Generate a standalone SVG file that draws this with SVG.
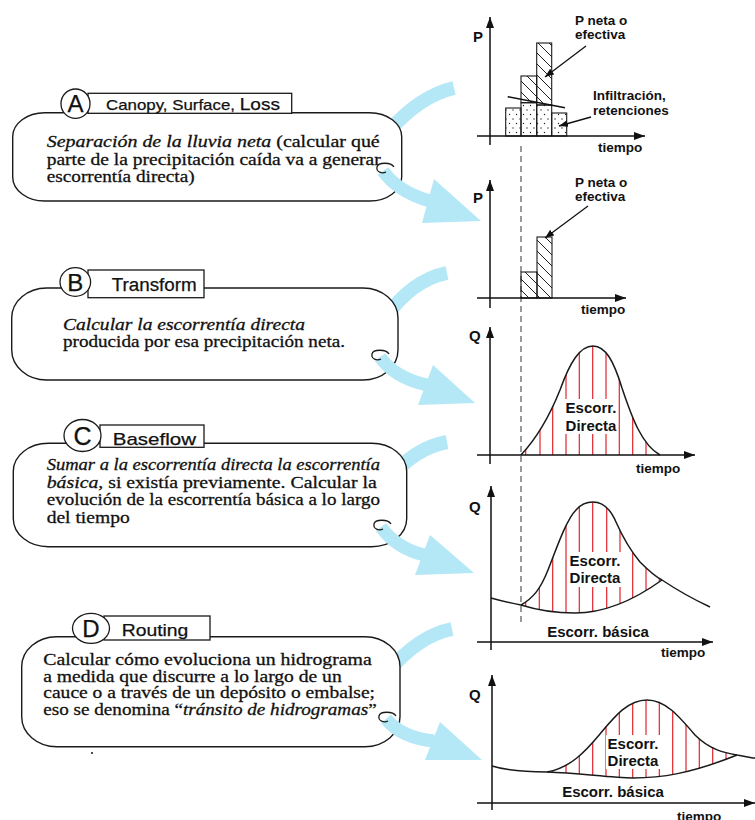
<svg xmlns="http://www.w3.org/2000/svg" width="755" height="820" viewBox="0 0 755 820">
<style>
.box{fill:#fff;stroke:#1a1a1a;stroke-width:1.4}
.lab{fill:#fff;stroke:#1a1a1a;stroke-width:1.3}
.sans{font-family:"Liberation Sans",Arial,sans-serif;fill:#111;stroke:#111;stroke-width:0.25}
.serif{font-family:"Liberation Serif","Times New Roman",serif;font-size:17.5px;fill:#111;stroke:#111;stroke-width:0.3}
.ch{font-family:"Liberation Sans",Arial,sans-serif;font-weight:bold;font-size:13.5px;fill:#111}
.big{font-family:"Liberation Sans",Arial,sans-serif;font-weight:bold;font-size:15px;fill:#111}
.axis{stroke:#111;stroke-width:1.5;fill:none;marker-end:url(#ah)}
.ptr{stroke:#111;stroke-width:1.3;fill:none;marker-end:url(#sa)}
.curve{stroke:#1a1a1a;stroke-width:1.5;fill:none}
.red{stroke:#e3232b;stroke-width:1.2}
.band{fill:none;stroke:#b5e8f6;stroke-width:14}
.shaft{fill:none;stroke:#b5e8f6;stroke-width:13}
.head{fill:#b5e8f6}
.hook{fill:none;stroke:#1a1a1a;stroke-width:1.3}
.bar{stroke:#1a1a1a;stroke-width:1.1}
</style>
<defs>
<marker id="ah" markerUnits="userSpaceOnUse" markerWidth="11" markerHeight="8" refX="11" refY="4" orient="auto"><path d="M0,0 L11,4 L0,8 z" fill="#111"/></marker>
<marker id="sa" markerUnits="userSpaceOnUse" markerWidth="9" markerHeight="7" refX="9" refY="3.5" orient="auto"><path d="M0,0 L9,3.5 L0,7 z" fill="#111"/></marker>
<pattern id="hatch" patternUnits="userSpaceOnUse" width="11" height="11"><path d="M-1,-1 L12,12 M-4,7 L4,15 M7,-4 L15,4" stroke="#222" stroke-width="1"/></pattern>
<pattern id="dots" patternUnits="userSpaceOnUse" width="7" height="9"><circle cx="2" cy="2" r="0.7" fill="#222"/><circle cx="5.5" cy="6.5" r="0.7" fill="#222"/></pattern>
<clipPath id="r3"><path d="M521,455 C535,440 548,420 560,390 C570,362 580,346 593,346 C606,346 614,362 622,388 C632,418 642,445 660,455 Z"/></clipPath>
<clipPath id="r4"><path d="M521,605 C533,598 540,590 548,570 C556,550 566,520 576,510 C582,503 588,502 593,502 C602,502 610,508 616,522 C624,540 630,550 640,562 C650,572 656,577 662,580 C630,603 600,613 575,613 C555,613 540,611 521,605 Z"/></clipPath>
<clipPath id="r5"><path d="M547,772 C570,768 585,752 600,734 C615,716 628,700 647,700 C665,700 678,715 695,735 C710,750 725,753 737,755 C690,774 660,778 633,778 C610,778 580,773 547,772 Z"/></clipPath>
</defs>
<rect width="755" height="820" fill="#fff"/>

<g id="connectors-back">
<path class="band" d="M454,88 Q420,96 390,130"/>
<path class="band" d="M447,273 Q412,280 385,318"/>
<path class="band" d="M447,442 Q415,448 390,478"/>
<path class="band" d="M452,629 Q418,636 388,672"/>
</g>

<g id="nodeA">
<rect class="box" x="12.7" y="112.7" width="389" height="88.3" rx="32" ry="24"/>
<rect class="lab" x="88" y="93.3" width="203.7" height="20"/>
<ellipse class="lab" cx="75.5" cy="103.7" rx="14.5" ry="14.7"/>
<text class="sans" x="75.5" y="112" font-size="24" text-anchor="middle">A</text>
<text class="sans" x="106" y="110" font-size="15" textLength="174" lengthAdjust="spacingAndGlyphs">Canopy, Surface, <tspan font-size="17">Loss</tspan></text>
<text class="serif" x="46.7" y="147.3" textLength="333" lengthAdjust="spacingAndGlyphs"><tspan font-style="italic">Separación de la lluvia neta</tspan> (calcular qué</text>
<text class="serif" x="46.7" y="165" textLength="334" lengthAdjust="spacingAndGlyphs">parte de la precipitación caída va a generar</text>
<text class="serif" x="46.7" y="181.7" textLength="148" lengthAdjust="spacingAndGlyphs">escorrentía directa)</text>
</g>

<g id="nodeB">
<rect class="box" x="11.7" y="288" width="386.3" height="92" rx="35" ry="30"/>
<rect class="lab" x="88" y="270" width="116" height="27.7"/>
<ellipse class="lab" cx="75.3" cy="282" rx="15.3" ry="14.3"/>
<text class="sans" x="75.3" y="290.5" font-size="24" text-anchor="middle">B</text>
<text class="sans" x="111.7" y="290.5" font-size="18" textLength="85" lengthAdjust="spacingAndGlyphs">Transform</text>
<text class="serif" x="63" y="330" textLength="242" lengthAdjust="spacingAndGlyphs" font-style="italic">Calcular la escorrentía directa</text>
<text class="serif" x="63" y="346.7" textLength="282" lengthAdjust="spacingAndGlyphs">producida por esa precipitación neta.</text>
</g>

<g id="nodeC">
<rect class="box" x="13.3" y="443.3" width="393.4" height="103.4" rx="35" ry="28"/>
<rect class="lab" x="100" y="425" width="104" height="22.3"/>
<ellipse class="lab" cx="82.5" cy="435.5" rx="18.5" ry="16"/>
<text class="sans" x="82.5" y="444.5" font-size="25" text-anchor="middle">C</text>
<text class="sans" x="112.7" y="445" font-size="17" textLength="83.3" lengthAdjust="spacingAndGlyphs">Baseflow</text>
<text class="serif" x="46.7" y="470" textLength="333.3" lengthAdjust="spacingAndGlyphs" font-style="italic">Sumar a la escorrentía directa la escorrentía</text>
<text class="serif" x="46.7" y="487.7" textLength="330" lengthAdjust="spacingAndGlyphs"><tspan font-style="italic">básica,</tspan> si existía previamente. Calcular la</text>
<text class="serif" x="46.7" y="505.3" textLength="333.3" lengthAdjust="spacingAndGlyphs">evolución de la escorrentía básica a lo largo</text>
<text class="serif" x="46.7" y="523" textLength="83" lengthAdjust="spacingAndGlyphs">del tiempo</text>
</g>

<g id="nodeD">
<rect class="box" x="21.7" y="636.7" width="378.3" height="110" rx="35" ry="30"/>
<rect class="lab" x="104" y="616" width="106" height="24"/>
<ellipse class="lab" cx="91" cy="628.3" rx="18.5" ry="15"/>
<text class="sans" x="91" y="637" font-size="24" text-anchor="middle">D</text>
<text class="sans" x="121.7" y="636" font-size="17" textLength="66.7" lengthAdjust="spacingAndGlyphs">Routing</text>
<text class="serif" x="43.3" y="665" textLength="328.4" lengthAdjust="spacingAndGlyphs">Calcular cómo evoluciona un hidrograma</text>
<text class="serif" x="43.3" y="681.7" textLength="298.4" lengthAdjust="spacingAndGlyphs">a medida que discurre a lo largo de un</text>
<text class="serif" x="43.3" y="698.3" textLength="331.7" lengthAdjust="spacingAndGlyphs">cauce o a través de un depósito o embalse;</text>
<text class="serif" x="43.3" y="715" textLength="333.4" lengthAdjust="spacingAndGlyphs">eso se denomina “<tspan font-style="italic">tránsito de hidrogramas</tspan>”</text>
<circle cx="92" cy="753" r="1" fill="#111"/>
</g>

<g id="connectors">
<path class="shaft" d="M383,171 Q398,192 430,201"/>
<polygon class="head" points="434,179 422,223 481,221"/>
<path class="hook" d="M394,167 C391,162 378,162 377,167 C376,172 382,174 386,172"/>
<path class="shaft" d="M380,357 Q395,378 427,385"/>
<polygon class="head" points="433,365 418,405 475,403"/>
<path class="hook" d="M389,354 C386,349 373,349 372,354 C371,359 377,361 381,359"/>
<path class="shaft" d="M381,527 Q396,548 424,555"/>
<polygon class="head" points="430,535 415,575 474,573"/>
<path class="hook" d="M391,524 C388,519 375,519 374,524 C373,529 379,531 383,529"/>
<path class="shaft" d="M386,719 Q402,738 434,741"/>
<polygon class="head" points="440,722 425,760 482,760"/>
<path class="hook" d="M396,716 C393,711 380,711 379,716 C378,721 384,723 388,721"/>
</g>

<g id="guide">
<line x1="521" y1="146" x2="521" y2="622" stroke="#666" stroke-width="1.3" stroke-dasharray="6,4"/>
</g>

<g id="chart1">
<rect x="505.7" y="108" width="15.3" height="28" fill="url(#dots)" class="bar"/>
<rect x="521" y="102.7" width="15.7" height="33.3" fill="url(#dots)" class="bar"/>
<rect x="521" y="76" width="15.7" height="26.7" fill="url(#hatch)" class="bar"/>
<rect x="536.7" y="105" width="15" height="31" fill="url(#dots)" class="bar"/>
<rect x="536.7" y="43" width="15" height="62" fill="url(#hatch)" class="bar"/>
<rect x="551.7" y="113" width="15" height="23" fill="url(#dots)" class="bar"/>
<line x1="507.7" y1="96.7" x2="565" y2="107.7" stroke="#111" stroke-width="1.6"/>
<path class="axis" d="M490,145 V17"/>
<path class="axis" d="M477,136 H645"/>
<path class="ptr" d="M586,46 L545,77"/>
<path class="ptr" d="M591,117 L559,126"/>
<text class="big" x="473" y="42">P</text>
<text class="ch" x="575" y="25">P neta o</text>
<text class="ch" x="575" y="39">efectiva</text>
<text class="ch" x="593" y="100">Infiltración,</text>
<text class="ch" x="593" y="115">retenciones</text>
<text class="ch" x="598" y="152">tiempo</text>
</g>

<g id="chart2">
<rect x="521" y="272" width="16" height="26" fill="url(#hatch)" class="bar"/>
<rect x="537" y="237" width="15" height="61" fill="url(#hatch)" class="bar"/>
<path class="axis" d="M490,308 V180"/>
<path class="axis" d="M477,298 H626"/>
<path class="ptr" d="M588,206 L545,238"/>
<text class="big" x="473" y="203">P</text>
<text class="ch" x="575" y="187">P neta o</text>
<text class="ch" x="575" y="201">efectiva</text>
<text class="ch" x="581" y="314">tiempo</text>
</g>

<g id="chart3">
<g clip-path="url(#r3)" class="red">
<path d="M525.7,330V460M540,330V460M552.7,330V460M566,330V460M579.3,330V460M592.7,330V460M606,330V460M619.3,330V460M632.7,330V460M646,330V460"/>
</g>
<rect x="565" y="399" width="53" height="35" fill="#fff"/>
<text class="big" x="591" y="413" text-anchor="middle">Escorr.</text>
<text class="big" x="591" y="431" text-anchor="middle">Directa</text>
<path class="curve" d="M521,455 C535,440 548,420 560,390 C570,362 580,346 593,346 C606,346 614,362 622,388 C632,418 642,445 660,455"/>
<path class="axis" d="M490,464 V327"/>
<path class="axis" d="M477,455 H695"/>
<text class="big" x="469" y="341">Q</text>
<text class="ch" x="636" y="473">tiempo</text>
</g>

<g id="chart4">
<g clip-path="url(#r4)" class="red">
<path d="M525.7,495V620M539.3,495V620M552.7,495V620M566,495V620M579.3,495V620M592.7,495V620M606.7,495V620M620,495V620M632.7,495V620M646,495V620M659.3,495V620"/>
</g>
<rect x="569" y="552" width="53" height="35" fill="#fff"/>
<text class="big" x="595" y="566" text-anchor="middle">Escorr.</text>
<text class="big" x="595" y="583" text-anchor="middle">Directa</text>
<path class="curve" d="M491,598 Q505,602 521,605 C540,611 555,613 575,613 C600,613 630,603 662,580"/>
<path class="curve" d="M521,605 C533,598 540,590 548,570 C556,550 566,520 576,510 C582,503 588,502 593,502 C602,502 610,508 616,522 C624,540 630,550 640,562 C650,572 656,577 662,580 C680,592 695,600 710,607"/>
<path class="axis" d="M491,650 V486"/>
<path class="axis" d="M477,642 H713"/>
<text class="big" x="469" y="512">Q</text>
<text class="big" x="598" y="637" text-anchor="middle">Escorr. básica</text>
<text class="ch" x="661" y="657">tiempo</text>
</g>

<g id="chart5">
<g clip-path="url(#r5)" class="red">
<path d="M552.7,690V785M566,690V785M579.3,690V785M592.7,690V785M606,690V785M619.3,690V785M632.7,690V785M646,690V785M659.3,690V785M672.7,690V785M686,690V785M699.3,690V785M712.7,690V785M726,690V785"/>
</g>
<rect x="606" y="735" width="54" height="34" fill="#fff"/>
<text class="big" x="633" y="749" text-anchor="middle">Escorr.</text>
<text class="big" x="633" y="766" text-anchor="middle">Directa</text>
<path class="curve" d="M492,766 C505,770 520,772 547,772 C580,773 610,778 633,778 C660,778 690,774 737,755"/>
<path class="curve" d="M547,772 C570,768 585,752 600,734 C615,716 628,700 647,700 C665,700 678,715 695,735 C710,750 725,753 737,755 C745,756 750,758 755,758"/>
<path class="axis" d="M492,810 V675"/>
<path class="axis" d="M477,803 H755"/>
<text class="big" x="469" y="700">Q</text>
<text class="big" x="613" y="797" text-anchor="middle">Escorr. básica</text>
<text class="ch" x="677" y="821">tiempo</text>
</g>
</svg>
